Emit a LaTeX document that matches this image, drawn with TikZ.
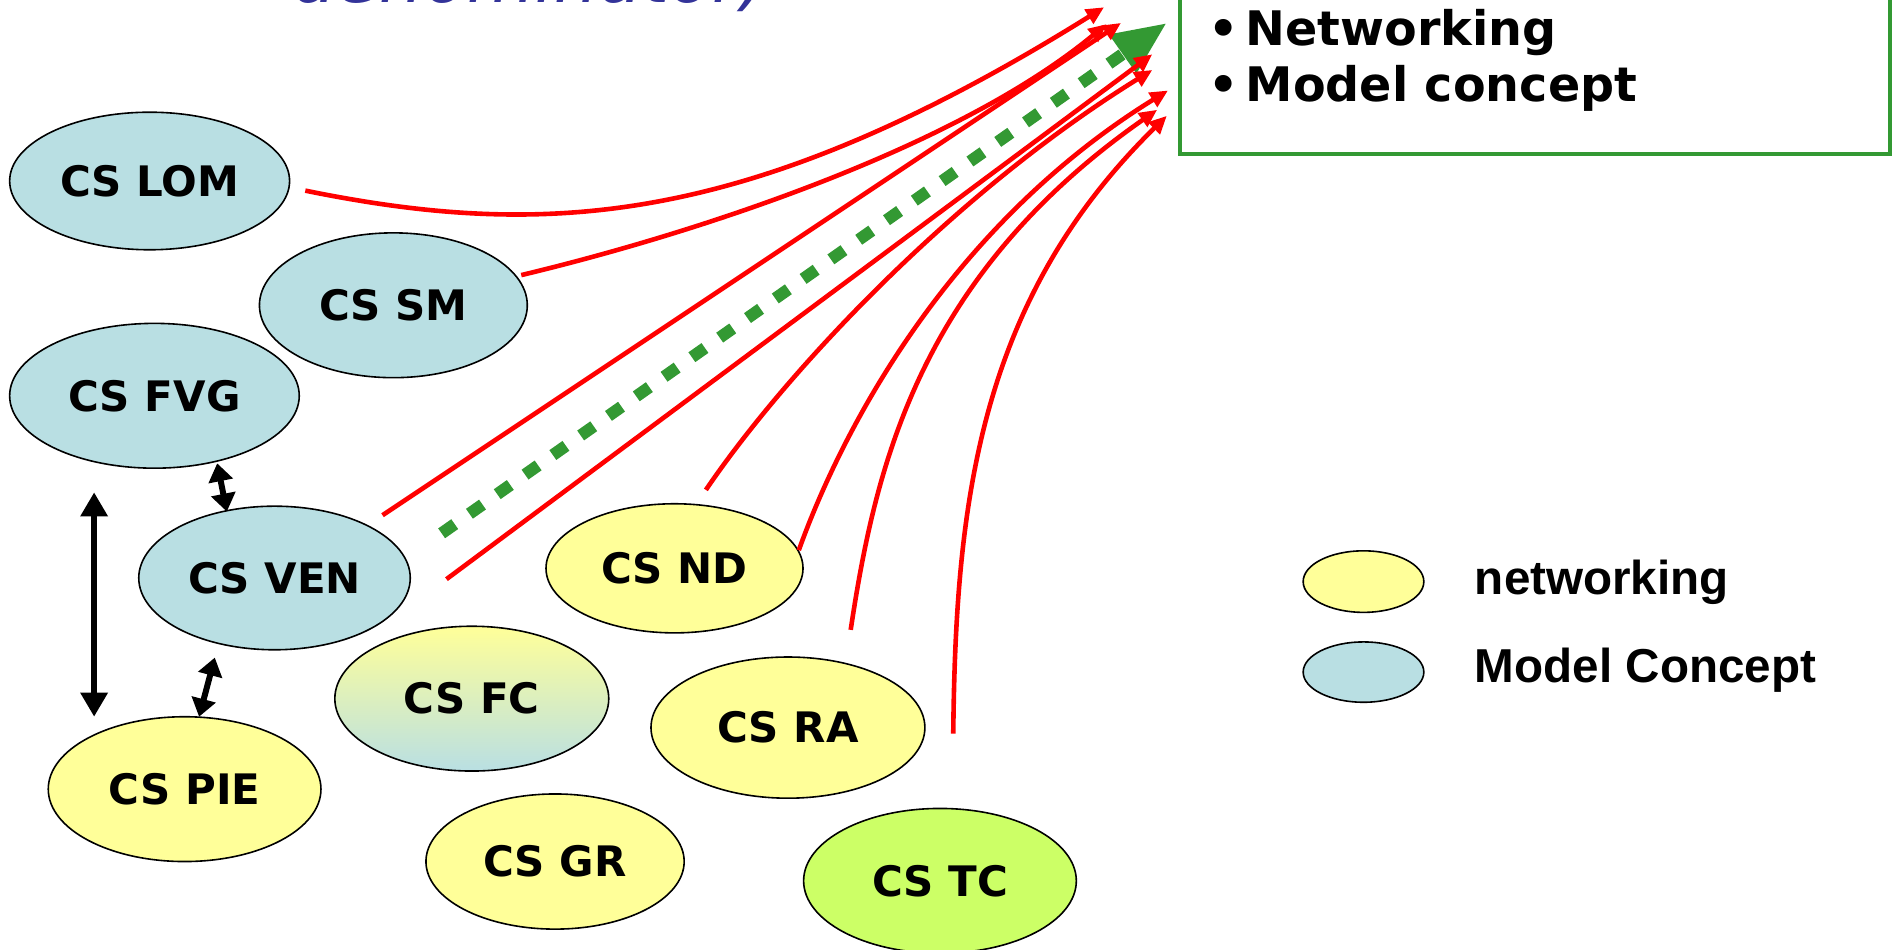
\documentclass[tikz,border=0pt]{standalone}
\usepackage{fontspec}
\setmainfont{DejaVu Sans}
\newfontfamily\legendfont{Liberation Sans}
\usetikzlibrary{shapes.geometric,arrows.meta}
\definecolor{mcblue}{HTML}{B9DFE3}
\definecolor{nwyellow}{HTML}{FFFF99}
\definecolor{tcgreen}{HTML}{CCFF66}
\definecolor{boxgreen}{HTML}{339933}
\definecolor{titleblue}{HTML}{333399}
\newcommand{\dunit}{0.6033pt}
\begin{document}
\begin{tikzpicture}[x=0.6033pt,y=-0.6033pt,
  cs/.style={ellipse,draw=black,line width=0.8pt,inner sep=0pt,
    font=\bfseries\fontsize{21}{25}\selectfont},
  sz/.style 2 args={minimum width=#1*\dunit,minimum height=#2*\dunit},
  mc/.style={cs,fill=mcblue},
  nw/.style={cs,fill=nwyellow},
  redarrow/.style={draw=red,line width=2.3pt,-{Triangle[length=9pt,width=8pt]}},
  dbl/.style={draw=black,line width=#1},
  bigtip/.style={{Triangle[length=12pt,width=13pt]}-{Triangle[length=12pt,width=13pt]}},
  smalltip/.style={{Triangle[length=9pt,width=12pt]}-{Triangle[length=9pt,width=12pt]}},
  boxtext/.style={anchor=base west,inner sep=0pt,font=\bfseries\fontsize{23.8}{28}\selectfont},
  legtext/.style={anchor=base west,inner sep=0pt,font=\legendfont\bfseries\fontsize{23.8}{28}\selectfont},
]
\useasboundingbox (0,0) rectangle (1568,786.5);

% title fragment
\node[anchor=base west,inner sep=0pt,text=titleblue,font=\itshape\fontsize{35}{40}\selectfont] (title) at (242,2) {denominator)};

% box
\draw[boxgreen,line width=2pt] (978,-30) rectangle (1566,128);
\node[boxtext] (b1) at (1032,38) {Networking};
\node[boxtext] (b2) at (1032,84) {Model concept};
\node[boxtext] (bu1) at (1001,38) {•};
\node[boxtext] (bu2) at (1001,84) {•};

% nodes
\node[mc,sz={232}{114}] (LOM) at (124,150) {CS LOM};
\node[mc,sz={222}{120}] (SM) at (326,253) {CS SM};
\node[mc,sz={240}{120}] (FVG) at (128,328) {CS FVG};
\node[mc,sz={225}{119}] (VEN) at (227.5,479) {CS VEN};
\node[nw,sz={226}{120}] (PIE) at (153,654) {CS PIE};
\node[cs,sz={227}{120},top color=nwyellow,bottom color=mcblue] (FC) at (391,579) {CS FC};
\node[nw,sz={213}{107}] (ND) at (559,471) {CS ND};
\node[nw,sz={227}{117}] (RA) at (653,603) {CS RA};
\node[nw,sz={214}{112}] (GR) at (460,714) {CS GR};
\node[cs,fill=tcgreen,sz={226}{120}] (TC) at (779,730) {CS TC};

% legend
\node[nw,sz={100}{51}] (Lnw) at (1130,482) {};
\node[mc,sz={100}{50}] (Lmc) at (1130,557) {};
\node[legtext] (Tnw) at (1222,493) {networking};
\node[legtext] (Tmc) at (1222,566) {Model Concept};

% free ends
\coordinate (sLOM) at (253,158);  \coordinate (eLOM) at (915,6);
\coordinate (sSM) at (432,228);   \coordinate (eSM) at (917,20);
\coordinate (sV1) at (317,427);   \coordinate (eV1) at (929,19);
\coordinate (sV2) at (370,480);   \coordinate (eV2) at (955,45);
\coordinate (sN1) at (585,406);   \coordinate (eN1) at (955,58);
\coordinate (sN2) at (662,456);   \coordinate (eN2) at (968,75);
\coordinate (sRA) at (705,522);   \coordinate (eRA) at (959,91);
\coordinate (sTC) at (790,608);   \coordinate (eTC) at (967,96);
\coordinate (gS) at (366,442);    \coordinate (gE) at (967,19);
\coordinate (vT) at (78,408);     \coordinate (vB) at (78,594);
\coordinate (pT) at (178,545);    \coordinate (pB) at (165,594);
\coordinate (fT) at (180,384);    \coordinate (fB) at (188,424);

% green dotted arrow
\draw[boxgreen,line width=6pt,dash pattern=on 8pt off 9pt,-{Triangle[length=27pt,width=22pt]}] (gS) -- (gE);

% red arrows
\draw[redarrow] (sLOM) .. controls (450,198) and (620,190) .. (eLOM);
\draw[redarrow] (sSM) .. controls (570,195) and (790,125) .. (eSM);
\draw[redarrow] (sV1) -- (eV1);
\draw[redarrow] (sV2) -- (eV2);
\draw[redarrow] (sN1) .. controls (650,310) and (790,160) .. (eN1);
\draw[redarrow] (sN2) .. controls (700,350) and (790,185) .. (eN2);
\draw[redarrow] (sRA) .. controls (725,390) and (760,230) .. (eRA);
\draw[redarrow] (sTC) .. controls (792,420) and (810,250) .. (eTC);

% black double arrows
\draw[dbl=3.2pt,bigtip] (vT) -- (vB);
\draw[dbl=3pt,smalltip] (fT) -- (fB);
\draw[dbl=3pt,smalltip] (pT) -- (pB);
\end{tikzpicture}
\end{document}
